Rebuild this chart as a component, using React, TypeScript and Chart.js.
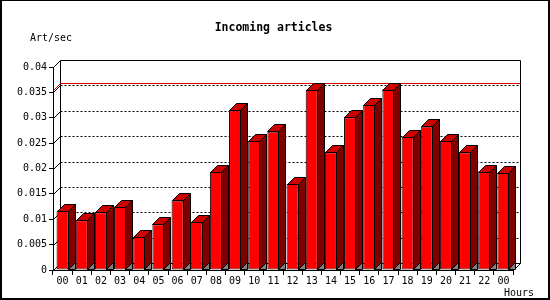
import React, { useEffect, useRef } from "react";
import { Chart, registerables } from "chart.js";

Chart.register(...registerables);

const hourLabels = ["00", "01", "02", "03", "04", "05", "06", "07", "08", "09", "10", "11", "12", "13", "14", "15", "16", "17", "18", "19", "20", "21", "22", "00"];
const artPerSec = [0.0117, 0.0098, 0.0114, 0.0125, 0.0066, 0.009, 0.0137, 0.0095, 0.0193, 0.0315, 0.0254, 0.0273, 0.017, 0.0355, 0.0232, 0.0301, 0.0325, 0.0355, 0.0262, 0.0283, 0.0254, 0.0232, 0.0194, 0.0192];
const yMin = 0;
const yMax = 0.04;
const yStep = 0.005;
const titleText = "Incoming articles";
const yTitleText = "Art/sec";
const xTitleText = "Hours";

const DX = 7;
const DY = 7;
const MONO = "'DejaVu Sans Mono', monospace";

const line = (ctx: CanvasRenderingContext2D, x1: number, y1: number, x2: number, y2: number) => {
  ctx.beginPath();
  ctx.moveTo(x1, y1);
  ctx.lineTo(x2, y2);
  ctx.stroke();
};

const poly = (ctx: CanvasRenderingContext2D, pts: number[][], fill: string) => {
  ctx.beginPath();
  ctx.moveTo(pts[0][0], pts[0][1]);
  for (let i = 1; i < pts.length; i++) ctx.lineTo(pts[i][0], pts[i][1]);
  ctx.closePath();
  ctx.fillStyle = fill;
  ctx.fill();
  ctx.strokeStyle = "#000";
  ctx.lineWidth = 1;
  ctx.stroke();
};

const threeD = {
  id: "threeD",
  beforeDatasetsDraw(chart: any) {
    const { ctx, chartArea, scales } = chart;
    const y = scales.y;
    const L = Math.round(chartArea.left) + 0.5;
    const R = Math.round(chartArea.right) + 0.5;
    const T = Math.round(chartArea.top) + 0.5;
    const B = Math.round(chartArea.bottom) + 0.5;
    ctx.save();
    ctx.lineWidth = 1;
    ctx.strokeStyle = "#000";
    // dotted grid on back wall
    ctx.setLineDash([2, 2]);
    const nSteps = Math.round((yMax - yMin) / yStep);
    for (let i = 1; i < nSteps; i++) {
      const py = Math.round(y.getPixelForValue(yMin + i * yStep)) + 0.5 - DY;
      line(ctx, L + DX, py, R + DX, py);
    }
    ctx.setLineDash([]);
    // left wall depth marks
    for (let i = 0; i <= nSteps; i++) {
      const py = Math.round(y.getPixelForValue(yMin + i * yStep)) + 0.5;
      line(ctx, L, py, L + DX, py - DY);
    }
    // back wall frame
    ctx.beginPath();
    ctx.moveTo(L + DX, B - DY);
    ctx.lineTo(L + DX, T - DY);
    ctx.lineTo(R + DX, T - DY);
    ctx.lineTo(R + DX, B - DY);
    ctx.lineTo(R, B);
    ctx.stroke();
    line(ctx, L + DX, B - DY, R + DX, B - DY);
    // max line
    const maxV = Math.max(...artPerSec);
    const pm = Math.round(y.getPixelForValue(maxV)) + 0.5;
    ctx.strokeStyle = "#e00000";
    ctx.beginPath();
    ctx.moveTo(L, pm);
    ctx.lineTo(L + DX, pm - DY);
    ctx.lineTo(R + DX, pm - DY);
    ctx.stroke();
    ctx.restore();
  },
  afterDatasetsDraw(chart: any) {
    const { ctx } = chart;
    const meta = chart.getDatasetMeta(0);
    ctx.save();
    meta.data.forEach((bar: any) => {
      const { x, y, width, base } = bar.getProps(["x", "y", "width", "base"], true);
      const l = Math.round(x - width / 2) + 0.5;
      const r = Math.round(x + width / 2) - 0.5;
      const t = Math.round(y) + 0.5;
      const b = Math.round(base) - 0.5;
      poly(ctx, [[r, b], [r + DX, b - DY], [r + DX, b]], "#808080");
      poly(ctx, [[r, t], [r + DX, t - DY], [r + DX, b - DY], [r, b]], "#800000");
      poly(ctx, [[l, t], [l + DX, t - DY], [r + DX, t - DY], [r, t]], "#cc0000");
    });
    ctx.restore();
  },
  afterDraw(chart: any) {
    const { ctx, width, height } = chart;
    ctx.save();
    ctx.fillStyle = "#000";
    ctx.textBaseline = "alphabetic";
    ctx.font = `bold 11.5px ${MONO}`;
    ctx.textAlign = "center";
    ctx.fillText(titleText, 273.5, 31);
    ctx.font = `10px ${MONO}`;
    ctx.textAlign = "left";
    ctx.fillText(yTitleText, 30, 41);
    ctx.fillText(xTitleText, 504, 296);
    // outer frame
    ctx.fillRect(0, 0, 2, height);
    ctx.fillRect(0, 0, width, 1);
    ctx.fillRect(width - 2, 0, 2, height);
    ctx.fillRect(0, height - 2, width, 2);
    ctx.restore();
  },
};

export default function App() {
  const ref = useRef<HTMLCanvasElement | null>(null);
  useEffect(() => {
    document.body.style.margin = "0";
    const canvas = ref.current;
    if (!canvas) return;
    const chart = new Chart(canvas, {
      type: "bar",
      data: {
        labels: hourLabels,
        datasets: [
          {
            data: artPerSec,
            backgroundColor: "#ff0000",
            borderColor: "#000000",
            borderWidth: 1,
            borderSkipped: false,
            categoryPercentage: 1,
            barPercentage: 0.63,
          },
        ],
      },
      options: {
        responsive: false,
        animation: false,
        devicePixelRatio: 1,
        layout: { padding: { top: 67, right: 37, left: 0, bottom: 0 } },
        plugins: { legend: { display: false }, tooltip: { enabled: false }, title: { display: false } },
        scales: {
          x: {
            afterFit: (s: any) => {
              s.height = 30;
            },
            offset: true,
            grid: { offset: true, drawOnChartArea: false, drawTicks: true, tickLength: 5, color: "#000" },
            border: { display: true, color: "#000" },
            ticks: { color: "#000", font: { family: MONO, size: 10 }, padding: 0, maxRotation: 0, autoSkip: false },
          },
          y: {
            min: yMin,
            max: yMax,
            afterFit: (s: any) => {
              s.width = 53;
            },
            grid: { drawOnChartArea: false, drawTicks: true, tickLength: 4, color: "#000" },
            border: { display: true, color: "#000" },
            ticks: {
              stepSize: yStep,
              color: "#000",
              padding: 2,
              font: { family: MONO, size: 10 },
              callback: (v: any) => Number(Number(v).toFixed(3)).toString(),
            },
          },
        },
      },
      plugins: [threeD],
    });
    return () => chart.destroy();
  }, []);
  return (
    <div style={{ width: 550, height: 300, background: "#fff" }}>
      <canvas ref={ref} width={550} height={300} style={{ display: "block" }} />
    </div>
  );
}
